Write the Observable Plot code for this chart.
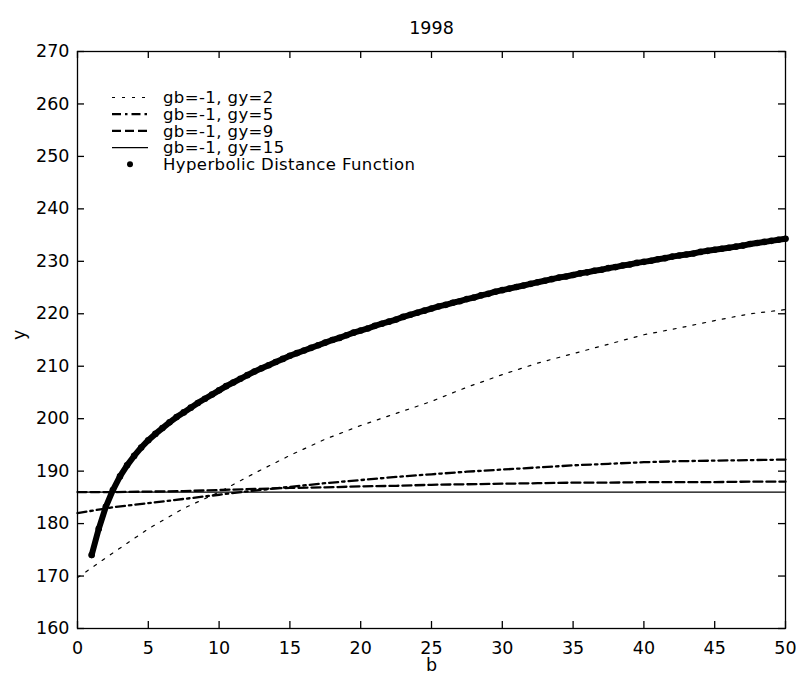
<!DOCTYPE html>
<html>
<head>
<meta charset="utf-8">
<script src="https://cdn.jsdelivr.net/npm/d3@7"></script>
<script src="https://cdn.jsdelivr.net/npm/@observablehq/plot@0.6"></script>
<style>
  html, body { margin: 0; padding: 0; background: #fff; }
  svg { display: block; }
</style>
</head>
<body>
<div id="chart"></div>
<script>
// ---- data ----
const title = "1998";
const xLabel = "b";
const yLabel = "y";
const xTicks = [0, 5, 10, 15, 20, 25, 30, 35, 40, 45, 50];
const yTicks = [160, 170, 180, 190, 200, 210, 220, 230, 240, 250, 260, 270];

const seriesNames = ["gb=-1, gy=2", "gb=-1, gy=5", "gb=-1, gy=9", "gb=-1, gy=15", "Hyperbolic Distance Function"];

const lineB = [0, 2.5, 5, 7.5, 10, 12.5, 15, 17.5, 20, 22.5, 25, 27.5, 30, 32.5, 35, 37.5, 40, 42.5, 45, 47.5, 50];
const gy2 = [169.7, 174.4, 179.0, 182.9, 186.0, 189.6, 193.0, 196.1, 198.7, 201.0, 203.3, 206.0, 208.4, 210.6, 212.4, 214.2, 216.0, 217.3, 218.7, 220.0, 220.8];
const gy5 = [182.0, 183.1, 183.9, 184.7, 185.5, 186.3, 187.0, 187.7, 188.3, 188.9, 189.4, 189.9, 190.3, 190.7, 191.1, 191.4, 191.7, 191.9, 192.0, 192.1, 192.2];
const gy9 = [186.0, 186.0, 186.1, 186.2, 186.4, 186.6, 186.8, 186.9, 187.1, 187.2, 187.4, 187.5, 187.6, 187.7, 187.8, 187.8, 187.9, 187.9, 187.9, 188.0, 188.0];
const gy15 = [186.0, 186.0, 186.0, 186.0, 186.0, 186.0, 186.0, 186.0, 186.0, 186.0, 186.0, 186.0, 186.0, 186.0, 186.0, 186.0, 186.0, 186.0, 186.0, 186.0, 186.0];

const hypB = [1, 1.5, 2, 2.5, 3, 3.5, 4, 4.5, 5, 5.5, 6, 6.5, 7, 7.5, 8, 8.5, 9, 9.5, 10, 10.5,
  11, 11.5, 12, 12.5, 13, 13.5, 14, 14.5, 15, 15.5, 16, 16.5, 17, 17.5, 18, 18.5, 19, 19.5, 20, 20.5,
  21, 21.5, 22, 22.5, 23, 23.5, 24, 24.5, 25, 25.5, 26, 26.5, 27, 27.5, 28, 28.5, 29, 29.5, 30, 30.5,
  31, 31.5, 32, 32.5, 33, 33.5, 34, 34.5, 35, 35.5, 36, 36.5, 37, 37.5, 38, 38.5, 39, 39.5, 40, 40.5,
  41, 41.5, 42, 42.5, 43, 43.5, 44, 44.5, 45, 45.5, 46, 46.5, 47, 47.5, 48, 48.5, 49, 49.5, 50];
const hypY = [174.0, 179.0, 183.2, 186.4, 189.0, 191.1, 192.9, 194.5, 195.9, 197.1, 198.2, 199.3, 200.3, 201.2, 202.1, 203.0, 203.8, 204.6, 205.4, 206.2,
  206.9, 207.6, 208.3, 209.0, 209.6, 210.2, 210.8, 211.4, 212.0, 212.5, 213.0, 213.5, 214.0, 214.5, 215.0, 215.4, 215.9, 216.4, 216.8, 217.2,
  217.7, 218.1, 218.5, 218.9, 219.4, 219.8, 220.2, 220.6, 221.0, 221.4, 221.7, 222.1, 222.4, 222.8, 223.1, 223.5, 223.8, 224.2, 224.5, 224.8,
  225.1, 225.4, 225.7, 226.0, 226.3, 226.6, 226.9, 227.1, 227.4, 227.7, 227.9, 228.2, 228.4, 228.7, 228.9, 229.2, 229.4, 229.7, 229.9, 230.1,
  230.4, 230.6, 230.9, 231.1, 231.3, 231.5, 231.8, 232.0, 232.2, 232.4, 232.6, 232.8, 233.0, 233.3, 233.5, 233.7, 233.9, 234.1, 234.3];

// ---- build tables ----
const toRows = (ys) => lineB.map((b, i) => ({b, y: ys[i]}));
const hypRows = hypB.map((b, i) => ({b, y: hypY[i]}));

const W = 796, H = 684;
const mTop = 51, mBottom = 56, mLeft = 77, mRight = 11;
const frameW = W - mLeft - mRight, frameH = H - mTop - mBottom;
const tickLen = 7;
const FONT = "'DejaVu Sans', 'Liberation Sans', Arial, sans-serif";
const FS = 17.5;
const LFS = 16.5;

const styles = {
  dotted: {stroke: "black", strokeWidth: 1.2, strokeDasharray: "3,7"},
  dashdot: {stroke: "black", strokeWidth: 2.3, strokeDasharray: "9,4,2.5,4"},
  dashed: {stroke: "black", strokeWidth: 2.3, strokeDasharray: "9,4"},
  solid: {stroke: "black", strokeWidth: 1.3}
};

const chart = Plot.plot({
  width: W,
  height: H,
  marginTop: mTop,
  marginBottom: mBottom,
  marginLeft: mLeft,
  marginRight: mRight,
  style: {fontFamily: FONT, fontSize: FS + "px", background: "white", color: "black"},
  x: {domain: [0, 50]},
  y: {domain: [160, 270]},
  marks: [
    Plot.line(toRows(gy15), {x: "b", y: "y", ...styles.solid}),
    Plot.line(toRows(gy9), {x: "b", y: "y", ...styles.dashed}),
    Plot.line(toRows(gy5), {x: "b", y: "y", ...styles.dashdot}),
    Plot.line(toRows(gy2), {x: "b", y: "y", ...styles.dotted}),
    Plot.line(hypRows, {x: "b", y: "y", stroke: "black", strokeWidth: 6, strokeLinecap: "round"}),
    Plot.dot(hypRows, {x: "b", y: "y", r: 3.3, fill: "black", stroke: "none"}),
    Plot.frame({stroke: "black", strokeWidth: 1.3}),
    // inward ticks on all four sides
    Plot.ruleX(xTicks, {x: d => d, insetTop: frameH - tickLen, stroke: "black", strokeWidth: 1.3}),
    Plot.ruleX(xTicks, {x: d => d, insetBottom: frameH - tickLen, stroke: "black", strokeWidth: 1.3}),
    Plot.ruleY(yTicks, {y: d => d, insetRight: frameW - tickLen, stroke: "black", strokeWidth: 1.3}),
    Plot.ruleY(yTicks, {y: d => d, insetLeft: frameW - tickLen, stroke: "black", strokeWidth: 1.3}),
    Plot.axisX(xTicks, {tickSize: 0, tickPadding: 13, label: null, fontSize: FS}),
    Plot.axisY(yTicks, {tickSize: 0, tickPadding: 8, label: null, fontSize: FS}),
    Plot.text([title], {frameAnchor: "top", lineAnchor: "middle", dy: -23, fontSize: FS, fill: "black"}),
    Plot.text([xLabel], {frameAnchor: "bottom", lineAnchor: "middle", dy: 37, fontSize: FS, fill: "black"}),
    Plot.text([yLabel], {frameAnchor: "left", lineAnchor: "middle", dx: -58, rotate: -90, fontSize: FS, fill: "black"})
  ]
});

document.getElementById("chart").appendChild(chart);

// ---- legend (inside the axes, top-left) ----
const svg = d3.select(chart);
const lg = svg.append("g")
  .attr("font-family", FONT)
  .attr("font-size", LFS)
  .attr("text-anchor", "start");
const legendStyles = [styles.dotted, styles.dashdot, styles.dashed, styles.solid, null];
const rowY0 = 97.5, rowStep = 16.7;
seriesNames.forEach((name, i) => {
  const yy = rowY0 + i * rowStep;
  const st = legendStyles[i];
  if (st) {
    lg.append("line")
      .attr("x1", 112).attr("x2", 148).attr("y1", yy).attr("y2", yy)
      .attr("stroke", st.stroke)
      .attr("stroke-width", st.strokeWidth)
      .attr("stroke-dasharray", st.strokeDasharray || null);
  } else {
    lg.append("circle").attr("cx", 130).attr("cy", yy).attr("r", 3).attr("fill", "black");
  }
  lg.append("text")
    .attr("x", 163).attr("y", yy)
    .attr("dy", "0.35em")
    .attr("text-anchor", "start")
    .attr("letter-spacing", "0.4px")
    .attr("fill", "black")
    .text(name);
});
</script>
</body>
</html>
